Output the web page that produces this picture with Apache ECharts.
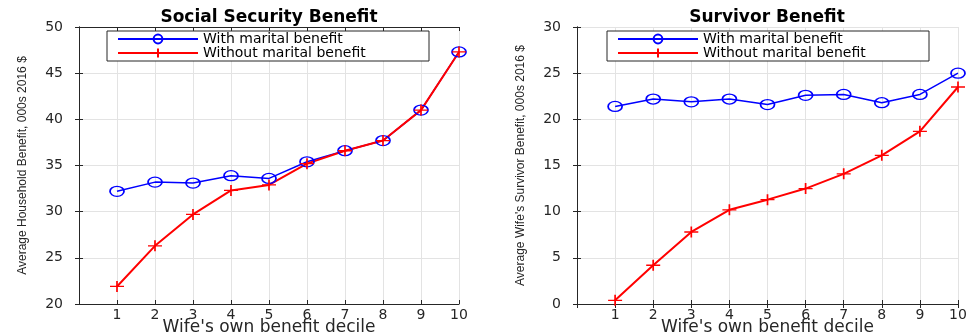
<!DOCTYPE html>
<html>
<head>
<meta charset="utf-8">
<script src="https://cdn.jsdelivr.net/npm/echarts/dist/echarts.min.js"></script>
<style>
  html, body { margin: 0; padding: 0; background: #fff; }
  #main { width: 971px; height: 333px; }
</style>
</head>
<body>
<div id="main"></div>
<script>
// 数据
var deciles = [1, 2, 3, 4, 5, 6, 7, 8, 9, 10];
var seriesNames = ['With marital benefit', 'Without marital benefit'];

// Social Security Benefit (左图)
var householdWith = [32.2, 33.2, 33.1, 33.9, 33.6, 35.4, 36.6, 37.7, 41.0, 47.3];
var householdWithout = [21.9, 26.3, 29.7, 32.3, 32.9, 35.2, 36.6, 37.7, 41.0, 47.3];

// Survivor Benefit (右图)
var survivorWith = [21.4, 22.2, 21.9, 22.2, 21.6, 22.6, 22.7, 21.8, 22.7, 25.0];
var survivorWithout = [0.4, 4.2, 7.8, 10.2, 11.3, 12.5, 14.1, 16.1, 18.7, 23.5];

var leftTicks = [20, 25, 30, 35, 40, 45, 50];
var rightTicks = [0, 5, 10, 15, 20, 25, 30];

var axisColor = '#262626';
var gridColor = '#e3e3e3';
var circleSymbol = 'path://M0,5 A5,5 0 1,1 10,5 A5,5 0 1,1 0,5 Z';
var plusSymbol = 'path://M0,5 L10,5 M5,0 L5,10';

function toPoints(values) {
  return deciles.map(function (d, i) { return [d, values[i]]; });
}

function xAxes(gridIndex) {
  return [{
    gridIndex: gridIndex,
    type: 'value', position: 'bottom',
    min: 0, max: 10, interval: 1,
    name: "Wife's own benefit decile",
    nameLocation: 'middle', nameGap: 15, nameMoveOverlap: false,
    nameTextStyle: { fontFamily: 'DejaVu Sans', fontSize: 17, color: axisColor },
    axisLine: { lineStyle: { color: axisColor, width: 1 } },
    axisTick: { inside: true, length: 4, lineStyle: { color: axisColor } },
    axisLabel: { showMinLabel: false, margin: 4, fontFamily: 'DejaVu Sans', fontSize: 14, color: axisColor },
    splitLine: { show: true, lineStyle: { color: gridColor } }
  }, {
    gridIndex: gridIndex,
    type: 'value', position: 'top',
    min: 0, max: 10, interval: 1,
    axisLine: { lineStyle: { color: axisColor, width: 1 } },
    axisTick: { inside: true, length: 4, lineStyle: { color: axisColor } },
    axisLabel: { show: false },
    splitLine: { show: false }
  }];
}

function yAxes(gridIndex, ticks, name) {
  var min = ticks[0], max = ticks[ticks.length - 1];
  return [{
    gridIndex: gridIndex,
    type: 'value', position: 'left',
    min: min, max: max, interval: 5,
    name: name,
    nameLocation: 'middle', nameRotate: 90, nameGap: 50,
    nameTextStyle: { fontFamily: 'Liberation Sans', fontSize: 12, color: axisColor },
    axisLine: { show: true, lineStyle: { color: axisColor, width: 1 } },
    axisTick: { show: true, inside: true, length: 4, lineStyle: { color: axisColor } },
    axisLabel: { margin: 16, fontFamily: 'DejaVu Sans', fontSize: 14, color: axisColor },
    splitLine: { show: true, lineStyle: { color: gridColor } }
  }, {
    gridIndex: gridIndex,
    type: 'value', position: 'right',
    min: min, max: max, interval: 5,
    axisLine: { show: true, lineStyle: { color: axisColor, width: 1 } },
    axisTick: { show: true, inside: true, length: 4, lineStyle: { color: axisColor } },
    axisLabel: { show: false },
    splitLine: { show: false }
  }];
}

function makeSeries(idx, withVals, withoutVals) {
  return [{
    name: seriesNames[0],
    type: 'line',
    xAxisIndex: idx * 2, yAxisIndex: idx * 2,
    data: toPoints(withVals),
    symbol: circleSymbol, symbolSize: [14, 10],
    lineStyle: { color: '#0000ff', width: 1.5 },
    itemStyle: { color: 'rgba(0,0,0,0)', borderColor: '#0000ff', borderWidth: 1.5 },
    animation: false
  }, {
    name: seriesNames[1],
    type: 'line',
    xAxisIndex: idx * 2, yAxisIndex: idx * 2,
    data: toPoints(withoutVals),
    symbol: plusSymbol, symbolSize: [14, 11],
    lineStyle: { color: '#ff0000', width: 2 },
    itemStyle: { color: '#ff0000', borderColor: '#ff0000', borderWidth: 1.5 },
    animation: false
  }];
}

function makeLegend(left) {
  return {
    left: left, top: 31,
    orient: 'vertical',
    data: seriesNames,
    itemWidth: 80, itemHeight: 11, itemGap: 0,
    padding: [1, 10, 1, 10],
    borderColor: axisColor, borderWidth: 1,
    backgroundColor: '#fff',
    selectedMode: false,
    textStyle: { fontFamily: 'DejaVu Sans', fontSize: 14, lineHeight: 11, color: '#000', width: 216 }
  };
}

var myChart = echarts.init(document.getElementById('main'));
var option = {
  backgroundColor: '#fff',
  animation: false,
  title: [
    { text: 'Social Security Benefit', left: 269, top: 9, textAlign: 'center', padding: 0,
      textStyle: { fontFamily: 'DejaVu Sans', fontWeight: 'bold', fontSize: 17, color: '#000' } },
    { text: 'Survivor Benefit', left: 767, top: 9, textAlign: 'center', padding: 0,
      textStyle: { fontFamily: 'DejaVu Sans', fontWeight: 'bold', fontSize: 17, color: '#000' } }
  ],
  legend: [makeLegend(107), makeLegend(607)],
  grid: [
    { left: 79, top: 27, width: 380, height: 277, outerBoundsMode: 'none', containLabel: false },
    { left: 577, top: 27, width: 381, height: 277, outerBoundsMode: 'none', containLabel: false }
  ],
  xAxis: xAxes(0).concat(xAxes(1)),
  yAxis: yAxes(0, leftTicks, 'Average Household Benefit, 000s 2016 $')
    .concat(yAxes(1, rightTicks, "Average Wife's Survivor Benefit, 000s 2016 $")),
  series: makeSeries(0, householdWith, householdWithout)
    .concat(makeSeries(1, survivorWith, survivorWithout))
};
myChart.setOption(option);
</script>
</body>
</html>
